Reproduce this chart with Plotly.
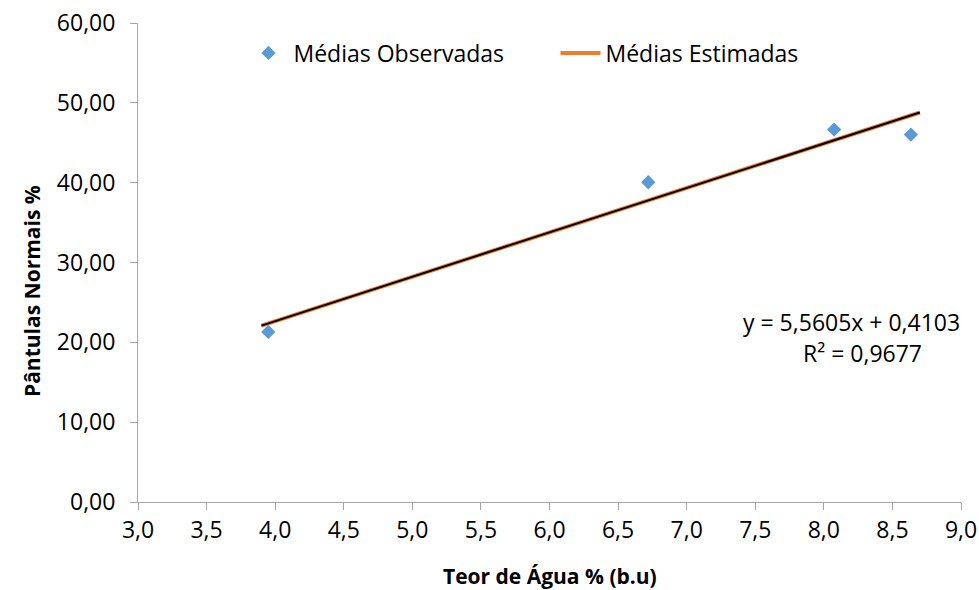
import plotly.graph_objects as go

# Data
obs_x = [3.95, 6.72, 8.075, 8.635]
obs_y = [21.3, 40.05, 46.65, 46.02]

trend_x = [3.9, 8.7]
slope = 5.5605
intercept = 0.4103
r2 = 0.9677
trend_y = [slope * x + intercept for x in trend_x]

x_ticks = [3.0, 3.5, 4.0, 4.5, 5.0, 5.5, 6.0, 6.5, 7.0, 7.5, 8.0, 8.5, 9.0]
x_tick_labels = ["3,0", "3,5", "4,0", "4,5", "5,0", "5,5", "6,0", "6,5", "7,0", "7,5", "8,0", "8,5", "9,0"]
y_ticks = [0, 10, 20, 30, 40, 50, 60]
y_tick_labels = ["0,00", "10,00", "20,00", "30,00", "40,00", "50,00", "60,00"]

FONT = "Open Sans"

fig = go.Figure()
fig.add_trace(go.Scatter(
    x=obs_x, y=obs_y, mode="markers", name="Médias Observadas",
    marker=dict(symbol="diamond", size=11, color="#5b9bd5"),
))
fig.add_trace(go.Scatter(
    x=trend_x, y=trend_y, mode="lines", name="Médias Estimadas",
    line=dict(color="#ed7d31", width=4),
))
fig.add_trace(go.Scatter(
    x=trend_x, y=trend_y, mode="lines", showlegend=False, hoverinfo="skip",
    line=dict(color="#000000", width=2),
))

axis_common = dict(
    showgrid=False, zeroline=False, showline=True, linecolor="#a6a6a6", linewidth=1,
    ticks="outside", ticklen=7, tickcolor="#a6a6a6", automargin=False,
    tickfont=dict(family=FONT, size=23, color="#000000"),
)

PL, PR, PT, PB = 138, 18, 23, 88
plot_h = 590 - PT - PB
plot_w = 979 - PL - PR


def py(pix):
    return (590 - PB - pix) / plot_h


def px(pix):
    return (pix - PL) / plot_w


fig.update_layout(
    width=979, height=590,
    margin=dict(l=PL, r=PR, t=PT, b=PB),
    paper_bgcolor="white", plot_bgcolor="white",
    font=dict(family=FONT, color="#000000"),
    xaxis=dict(range=[3.0, 9.0], tickvals=x_ticks, ticktext=x_tick_labels, **axis_common),
    yaxis=dict(range=[0, 60], tickvals=y_ticks, ticktext=y_tick_labels,
               ticklabelstandoff=10, **axis_common),
    showlegend=True,
    legend=dict(orientation="h", x=px(243.5), y=py(53), xanchor="left", yanchor="middle",
                font=dict(family=FONT, size=23), bgcolor="rgba(0,0,0,0)",
                itemwidth=40, entrywidth=257, entrywidthmode="pixels"),
    annotations=[
        dict(xref="paper", yref="paper", x=0.5, y=py(576), xanchor="center", yanchor="middle",
             text="<b>Teor de Água % (b.u)</b>", showarrow=False, font=dict(family=FONT, size=21)),
        dict(xref="paper", yref="paper", x=px(32), y=py(291), xanchor="center", yanchor="middle",
             textangle=-90,
             text="<b>Pântulas Normais %</b>", showarrow=False, font=dict(family=FONT, size=21)),
        dict(xref="paper", yref="paper", x=px(962), y=py(322), xanchor="right", yanchor="middle",
             text="y = 5,5605x + 0,4103", showarrow=False, font=dict(family=FONT, size=23)),
        dict(xref="paper", yref="paper", x=px(924), y=py(353), xanchor="right", yanchor="middle",
             text=f"R² = {str(r2).replace('.', ',')}", showarrow=False, font=dict(family=FONT, size=23)),
    ],
)

fig.write_html("out.html", config={"displayModeBar": False},
               post_script="document.body.style.margin='0';")
